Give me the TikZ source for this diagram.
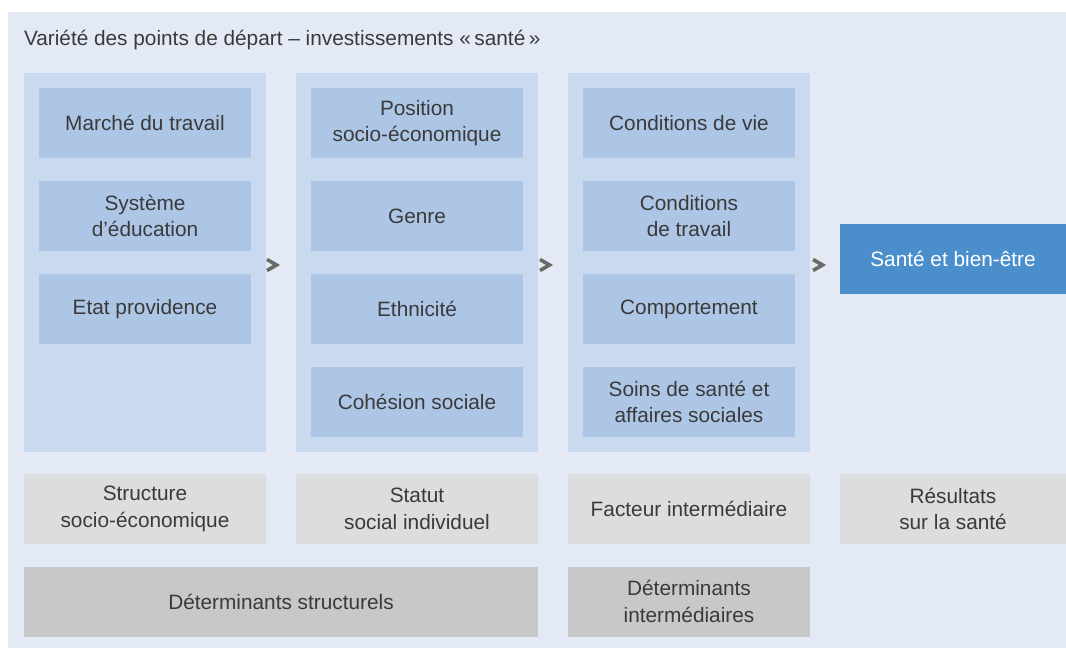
\documentclass[tikz,border=0pt]{standalone}
\usepackage{fontspec}
\setmainfont{Liberation Sans}
\definecolor{bgouter}{HTML}{E3EAF5}
\definecolor{colbg}{HTML}{C9D9EF}
\definecolor{innerbg}{HTML}{ADC6E6}
\definecolor{hlbg}{HTML}{4A8FCC}
\definecolor{grayA}{HTML}{DCDDDF}
\definecolor{grayB}{HTML}{C6C8CA}
\definecolor{txt}{HTML}{3A3A3A}
\definecolor{arrowc}{HTML}{6A6A6A}
\begin{document}
\begin{tikzpicture}[x=0.75pt,y=-0.75pt,
  base/.style={inner sep=0pt, outer sep=0pt, align=center, text=txt,
    font=\fontsize{15.6pt}{19.8pt}\selectfont},
  colbox/.style={base, fill=colbg, minimum width=181.5pt, minimum height=284.25pt},
  innerbox/.style={base, fill=innerbg, minimum width=159pt, minimum height=52.5pt},
  hlbox/.style={base, fill=hlbg, text=white, minimum width=169.5pt, minimum height=52.5pt},
  grayone/.style={base, fill=grayA, minimum width=181.5pt, minimum height=52.5pt},
  graytwo/.style={base, fill=grayB, minimum width=181.5pt, minimum height=52.5pt},
  chev/.style={draw=arrowc, line width=2.7pt, line join=miter}
]
\useasboundingbox (0,0) rectangle (1066,648);
\fill[bgouter] (8,12) rectangle (1066,648);
\node[base, anchor=base west] (title) at (24,46) {Variété des points de départ – investissements «\,santé\,»};

% columns
\node[colbox] (c1) at (145,262.5) {};
\node[colbox] (c2) at (417,262.5) {};
\node[colbox] (c3) at (689,262.5) {};

% column 1
\node[innerbox] (a1) at (145,123) {Marché du travail};
\node[innerbox] (a2) at (145,216) {Système\\d’éducation};
\node[innerbox] (a3) at (145,309) {Etat providence};

% column 2
\node[innerbox] (b1) at (417,123) {Position\\socio-économique};
\node[innerbox] (b2) at (417,216) {Genre};
\node[innerbox] (b3) at (417,309) {Ethnicité};
\node[innerbox] (b4) at (417,402) {Cohésion sociale};

% column 3
\node[innerbox] (d1) at (689,123) {Conditions de vie};
\node[innerbox] (d2) at (689,216) {Conditions\\de travail};
\node[innerbox] (d3) at (689,309) {Comportement};
\node[innerbox] (d4) at (689,402) {Soins de santé et\\affaires sociales};

% result
\node[hlbox] (h) at (953,259) {Santé et bien-être};

% chevrons
\coordinate (k1) at (272,265);
\coordinate (k2) at (545,265);
\coordinate (k3) at (818,265);
\foreach \k in {k1,k2,k3}{
  \draw[chev] ([shift={(-5,-5.5)}]\k) -- ([shift={(4.5,0)}]\k) -- ([shift={(-5,5.5)}]\k);
}

% gray row 1
\node[grayone] (g1) at (145,509) {Structure\\socio-économique};
\node[grayone] (g2) at (417,509) {Statut\\social individuel};
\node[grayone] (g3) at (689,509) {Facteur intermédiaire};
\node[grayone, minimum width=169.5pt] (g4) at (953,509) {Résultats\\sur la santé};

% gray row 2
\node[graytwo, minimum width=385.5pt] (s1) at (281,601.5) {Déterminants structurels};
\node[graytwo] (s2) at (689,601.5) {Déterminants\\intermédiaires};
\end{tikzpicture}
\end{document}
